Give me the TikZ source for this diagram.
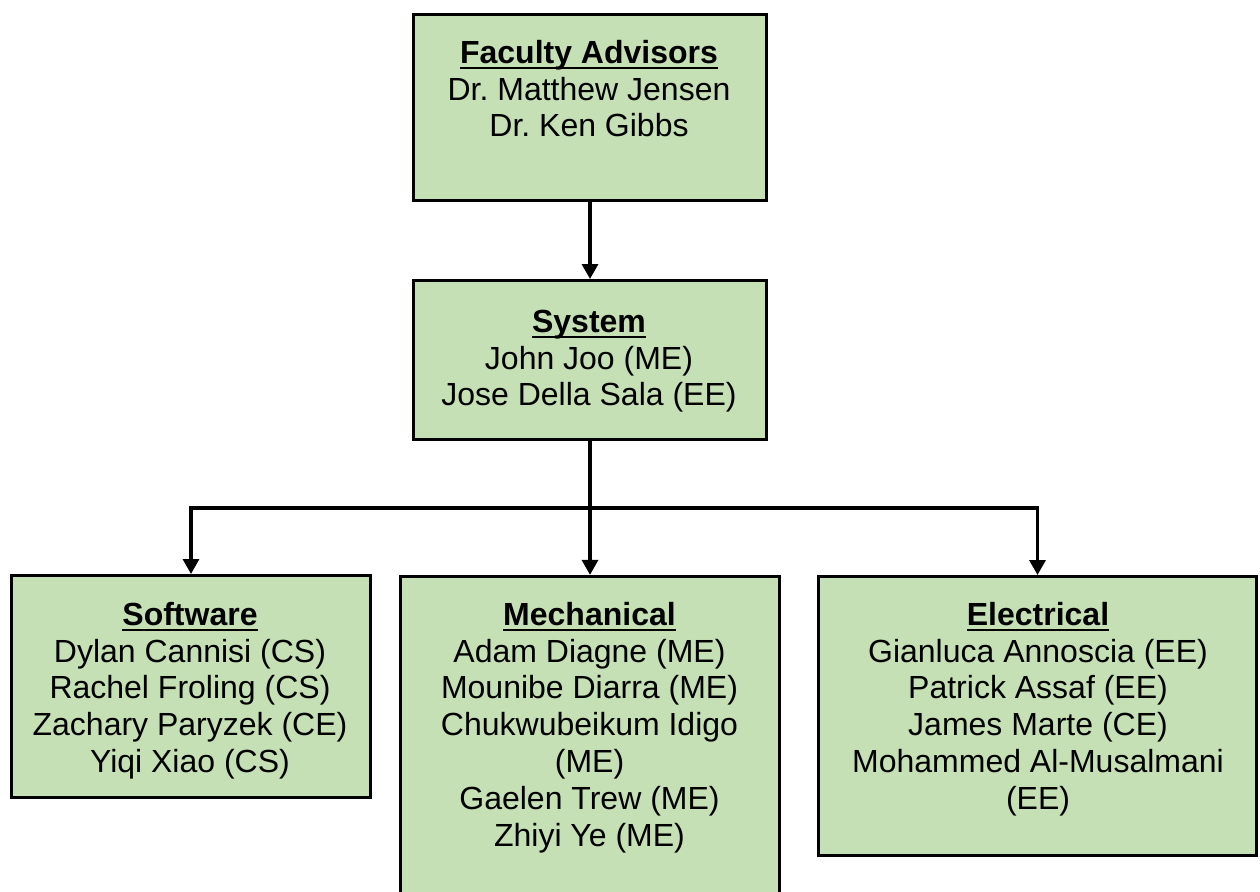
\documentclass[tikz,border=0pt]{standalone}
\usepackage{fontspec}
\setmainfont{Liberation Sans}
\usetikzlibrary{arrows.meta}
\definecolor{boxgreen}{HTML}{C5E0B4}
\frenchspacing
\newcommand\hdr[1]{\setbox0\hbox{\bfseries #1}\rlap{\rule[-5.5pt]{\wd0}{1.8pt}}\box0}
\newcommand\fl{\rule{0pt}{25pt}}
\tikzset{
  orgbox/.style={draw=black, line width=3.3pt, fill=boxgreen, inner sep=0pt},
  orgtext/.style={anchor=north, align=center, inner sep=0pt,
    font=\fontsize{32}{36.8}\selectfont},
  conn/.style={line width=3.3pt, draw=black},
  arr/.style={conn, -{Triangle[length=15pt,width=16pt]}}
}
\begin{document}
\begin{tikzpicture}[x=1pt,y=-1pt]
\useasboundingbox[fill=white] (0,0) rectangle (1260,891);

\node[orgbox, minimum width=352.7pt, minimum height=185.7pt] (fac) at (590,107.5) {};
\node[orgbox, minimum width=352.7pt, minimum height=158.7pt] (sys) at (590,360) {};
\node[orgbox, minimum width=358.7pt, minimum height=221.7pt] (soft) at (191,686.5) {};
\node[orgbox, minimum width=378.7pt, minimum height=352pt] (mech) at (590,752.5) {};
\node[orgbox, minimum width=437.7pt, minimum height=278.7pt] (elec) at (1037.5,716) {};

\node[orgtext] (facT) at (589,38) {\fl\hdr{Faculty Advisors}\\Dr. Matthew Jensen\\Dr. Ken Gibbs};
\node[orgtext] (sysT) at (589,307) {\fl\hdr{System}\\John Joo (ME)\\Jose Della Sala (EE)};
\node[orgtext] (softT) at (190,600) {\fl\hdr{Software}\\Dylan Cannisi (CS)\\Rachel Froling (CS)\\Zachary Paryzek (CE)\\Yiqi Xiao (CS)};
\node[orgtext] (mechT) at (589.5,600) {\fl\hdr{Mechanical}\\Adam Diagne (ME)\\Mounibe Diarra (ME)\\Chukwubeikum Idigo\\(ME)\\Gaelen Trew (ME)\\Zhiyi Ye (ME)};
\node[orgtext] (elecT) at (1038,600) {\fl\hdr{Electrical}\\Gianluca Annoscia (EE)\\Patrick Assaf (EE)\\James Marte (CE)\\Mohammed Al-Musalmani\\(EE)};

\coordinate (j) at (590,508);
\draw[arr] (fac.south) -- (sys.north);
\draw[arr] (sys.south) -- (j) -| (soft.north);
\draw[arr] (j) -| (elec.north);
\draw[arr] (sys.south) -- (mech.north);
\end{tikzpicture}
\end{document}
